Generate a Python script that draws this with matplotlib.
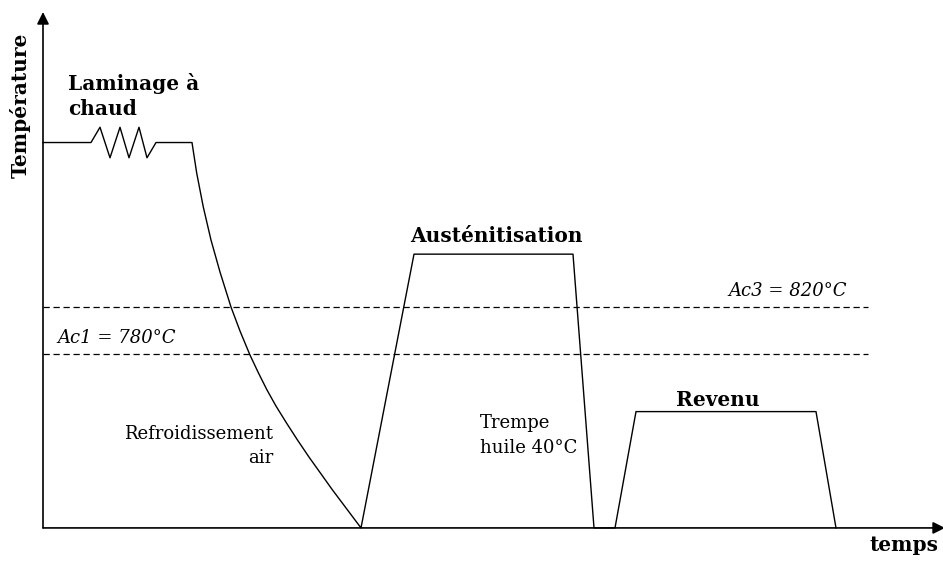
import numpy as np
import matplotlib
matplotlib.use('Agg')
import matplotlib.pyplot as plt

# schematic heat treatment profile (time in arbitrary units, temperature in °C)
t_lam = [0, 48, 57, 67, 77, 86, 96, 104, 113, 149]
T_lam = [960, 960, 973, 947, 973, 947, 973, 947, 960, 960]

# air cooling after hot rolling
t_air = [149, 153.7, 160.3, 168, 177, 188, 197, 207, 215.5, 224, 233,
         243.5, 254.5, 266, 289.5, 318]
T_air = [960, 934.0, 905.1, 877.0, 849.8, 820.0, 799.6, 779.1, 763.8, 749.4,
         735.7, 721.3, 706.8, 692.3, 664.3, 632]

# austenitisation + oil quench
t_aus = [318, 371, 530, 551]
T_aus = [632, 865, 865, 632]

# tempering
t_rev = [551, 572, 593, 773, 793]
T_rev = [632, 632, 731, 731, 632]

Ac1 = 780
Ac3 = 820
T_base = 632
t_end = 825

t = t_lam + t_air[1:] + t_aus[1:] + t_rev[1:]
T = T_lam + T_air[1:] + T_aus[1:] + T_rev[1:]

W, H = 943, 562
fig = plt.figure(figsize=(W/100, H/100), dpi=100)
ax = fig.add_axes([0, 0, 1, 1])
ax.set_xlim(-43, 900)
ax.set_ylim(603.0, 1081.3)
ax.axis('off')

def px(x, y):
    # pixel position -> data position (for placing labels)
    return x - 43, 780 + (354 - y)*40/47

# profile
ax.plot(t, T, '-k', lw=1.0)

# critical temperatures
ax.plot([0, t_end], [Ac3, Ac3], color='k', lw=0.9, dashes=(5, 3))
ax.plot([0, t_end], [Ac1, Ac1], color='k', lw=0.9, dashes=(5, 3))

# axes with arrows
ax.annotate('', xy=(0, px(0, 12)[1]), xytext=(0, T_base), annotation_clip=False,
            arrowprops=dict(arrowstyle='-|>', lw=1.2, color='k', mutation_scale=18,
                            shrinkA=0, shrinkB=0))
ax.annotate('', xy=(902, T_base), xytext=(0, T_base), annotation_clip=False,
            arrowprops=dict(arrowstyle='-|>', lw=1.2, color='k', mutation_scale=18,
                            shrinkA=0, shrinkB=0))

serif = 'DejaVu Serif'
bold = dict(family=serif, weight='bold', size=14.5, va='baseline')
reg = dict(family=serif, size=13, va='baseline')
ita = dict(family=serif, style='italic', size=13, va='baseline')

ax.text(*px(68, 90), 'Laminage à', ha='left', **bold)
ax.text(*px(68, 115), 'chaud', ha='left', **bold)
ax.text(*px(496, 242), 'Austénitisation', ha='center', **bold)
ax.text(*px(718, 406), 'Revenu', ha='center', **bold)
ax.text(*px(938, 551), 'temps', ha='right', **bold)
ax.text(*px(20, 105), 'Température', ha='center', va='center', rotation=90,
        family=serif, weight='bold', size=14.5)

ax.text(*px(847, 296), 'Ac3 = 820°C', ha='right', **ita)
ax.text(*px(57, 343), 'Ac1 = 780°C', ha='left', **ita)

ax.text(*px(273, 439), 'Refroidissement', ha='right', **reg)
ax.text(*px(273, 463), 'air', ha='right', **reg)
ax.text(*px(480, 428), 'Trempe', ha='left', **reg)
ax.text(*px(480, 453), 'huile 40°C', ha='left', **reg)

fig.savefig('out.png', dpi=100)
